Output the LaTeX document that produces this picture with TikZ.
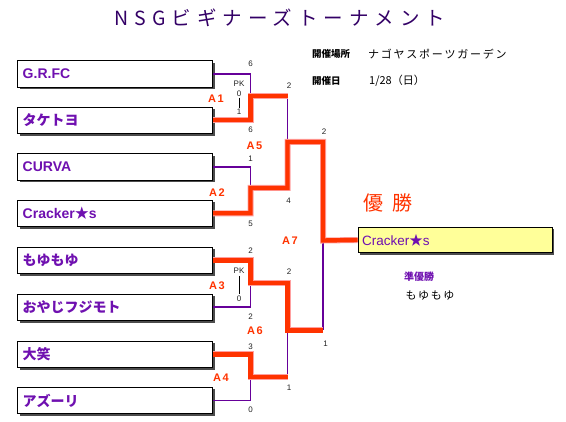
\documentclass[tikz,border=0pt]{standalone}
\usepackage{fontspec}
\setmainfont{Liberation Sans}
\newfontfamily\jp{Noto Sans CJK JP}
\usetikzlibrary{shadows}
\definecolor{ttl}{HTML}{330066}
\definecolor{lpur}{HTML}{660099}
\definecolor{npur}{HTML}{6F10B0}
\definecolor{ora}{HTML}{FF3300}
\definecolor{pinkh}{HTML}{FFA0A0}
\definecolor{yel}{HTML}{FFFF99}
\definecolor{scc}{HTML}{222222}
\begin{document}
\begin{tikzpicture}[x=1pt,y=-1pt,
  team/.style={draw=black, line width=1pt, fill=white, minimum width=195pt,
    minimum height=26.5pt, text width=184.5pt, inner xsep=5.25pt, inner ysep=0pt,
    align=left, anchor=west, font=\bfseries\fontsize{14}{14}\selectfont, text=npur,
    drop shadow={shadow xshift=2pt, shadow yshift=-2pt, fill=black!70, opacity=1}},
  winbox/.style={draw=black, line width=1pt, fill=yel, minimum width=194pt,
    minimum height=25.5pt, text width=186pt, inner xsep=4pt, inner ysep=0pt,
    align=left, anchor=west, font=\fontsize{13.5}{13.5}\selectfont, text=npur,
    drop shadow={shadow xshift=2pt, shadow yshift=-2pt, fill=black!70, opacity=1}},
  pl/.style={draw=lpur, line width=1.6pt, line join=miter},
  ol/.style={draw=ora, line width=4.4pt, line join=miter,
    preaction={draw=pinkh, line width=6pt, line join=miter}},
  sc/.style={font=\fontsize{8}{8}\selectfont, text=scc, inner sep=0pt},
  al/.style={font=\bfseries\fontsize{11}{11}\selectfont\addfontfeature{LetterSpace=14}, text=ora, inner sep=0pt},
  info/.style={anchor=west, inner sep=0pt, text=black},
]
\useasboundingbox (0,0) rectangle (566,422);

% title
\node[anchor=west, inner sep=0pt, text=ttl,
  font=\jp\fontsize{19.5}{20}\selectfont\addfontfeature{LetterSpace=31}] (title) at (114,18) {NSGビギナーズトーナメント};

% info
\node[info, font=\jp\bfseries\fontsize{9.5}{10}\selectfont] (lplace) at (312,53.5) {開催場所};
\node[info, font=\jp\fontsize{11}{11}\selectfont\addfontfeature{LetterSpace=16}] (vplace) at (368,54) {ナゴヤスポーツガーデン};
\node[info, font=\jp\bfseries\fontsize{9.5}{10}\selectfont] (ldate) at (312,80.5) {開催日};
\node[info, font=\jp\fontsize{11}{11}\selectfont] (vdate) at (369,81) {1/28（日）};

% join points
\coordinate (j1) at (250.5,96);
\coordinate (j2) at (250.5,188);
\coordinate (j3) at (250.5,283);
\coordinate (j4) at (250.5,377);
\coordinate (j5) at (287.5,142);
\coordinate (j6) at (287.5,330.5);
\coordinate (j7) at (323,240.5);

% team boxes
\node[team] (t1) at (17,73.8) {G.R.FC};
\node[team] (t2) at (17,120.3) {{\jp タケトヨ}};
\node[team] (t3) at (17,167) {CURVA};
\node[team] (t4) at (17,213.3) {Cracker{\jp ★}s};
\node[team] (t5) at (17,260.5) {{\jp もゆもゆ}};
\node[team] (t6) at (17,307.3) {{\jp おやじフジモト}};
\node[team] (t7) at (17,354.5) {{\jp 大笑}};
\node[team] (t8) at (17,400.5) {{\jp アズーリ}};

% winner
\node[winbox] (w) at (357.7,240) {Cracker{\jp ★}s};
\node[inner sep=0pt, text=ora, font=\jp\fontsize{20}{20}\selectfont] (champ) at (388,202.5) {優\kern9pt 勝};
\node[inner sep=0pt, text=npur, font=\jp\bfseries\fontsize{10}{10}\selectfont] (runl) at (419,277) {準優勝};
\node[inner sep=0pt, text=black, font=\jp\fontsize{11}{11}\selectfont\addfontfeature{LetterSpace=14}] (runn) at (430,295) {もゆもゆ};

% losing (purple) lines
\draw[pl] (t1.east) -| (j1);
\draw[pl] (j1 -| j5) -- (j5);
\draw[pl] (t3.east) -| (j2);
\draw[pl] (t6.east) -| (j3);
\draw[pl] (t8.east) -| (j4);
\draw[pl] (j4 -| j6) -- (j6);
\draw[pl] (j6 -| j7) -- (j7);

% winning (orange) lines
\draw[ol] (t2.east) -| (j1) -- (j1 -| j5);
\draw[ol] (t4.east) -| (j2) -- (j2 -| j5) -- (j5) -- (j5 -| j7) -- (j7) -- (w.west);
\draw[ol] (t5.east) -| (j3) -- (j3 -| j6) -- (j6) -- (j6 -| j7);
\draw[ol] (t7.east) -| (j4) -- (j4 -| j6);

% match labels
\node[al] (a1) at (216,99) {A1};
\node[al] (a2) at (217,193) {A2};
\node[al] (a3) at (217,285.5) {A3};
\node[al] (a4) at (221,378) {A4};
\node[al] (a5) at (254.5,145.5) {A5};
\node[al] (a6) at (255,331) {A6};
\node[al] (a7) at (290,241) {A7};

% scores
\node[sc] (s1) at (250.5,64) {6};
\node[sc] (pk1) at (239,84) {PK};
\node[sc] (pa1) at (239,93.5) {0};
\node[sc] (pb1) at (239,111.5) {1};
\draw[black, line width=0.8pt, shorten <=1pt, shorten >=1pt] (pa1.south) -- (pb1.north);
\node[sc] (s2) at (250.5,130) {6};
\node[sc] (s5a) at (289,86) {2};
\node[sc] (s3) at (250.5,159) {1};
\node[sc] (s5b) at (288.5,200.5) {4};
\node[sc] (s4) at (250.5,224) {5};
\node[sc] (s7a) at (324,132) {2};
\node[sc] (s5) at (250.5,250.5) {2};
\node[sc] (pk3) at (239,271) {PK};
\node[sc] (pb3) at (239,299) {0};
\draw[black, line width=0.8pt, shorten <=2pt, shorten >=2pt] (pk3.south) -- (pb3.north);
\node[sc] (s6a) at (289,271.5) {2};
\node[sc] (s6) at (250.5,317) {2};
\node[sc] (s7) at (250.5,346.5) {3};
\node[sc] (s7b) at (325.5,344) {1};
\node[sc] (s6b) at (289,388) {1};
\node[sc] (s8) at (250.5,410) {0};
\end{tikzpicture}
\end{document}
